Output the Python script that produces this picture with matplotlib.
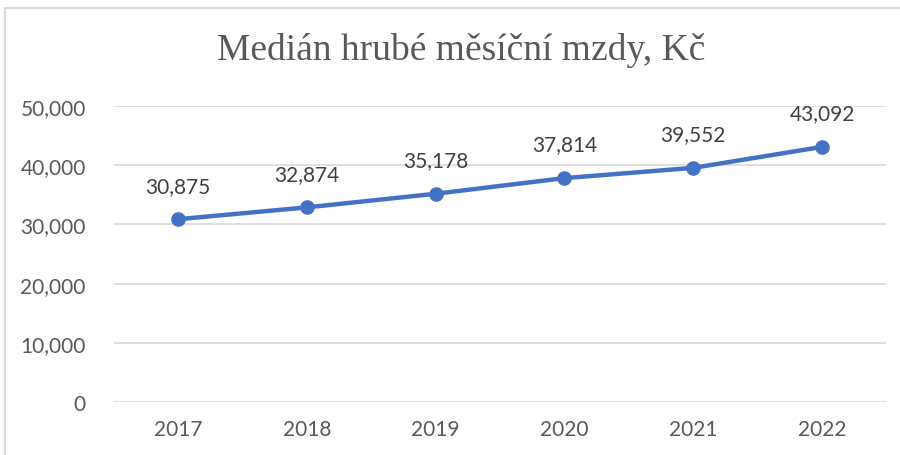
import matplotlib.pyplot as plt
from matplotlib.patches import Rectangle
from matplotlib.ticker import FuncFormatter

years = ["2017", "2018", "2019", "2020", "2021", "2022"]
wages = [30875, 32874, 35178, 37814, 39552, 43092]
title = "Medián hrubé měsíční mzdy, Kč"

W, H = 900, 456
fig = plt.figure(figsize=(W / 100, H / 100), dpi=100)
fig.patch.set_facecolor("white")

# chart frame (cut off at right and bottom)
fig.patches.append(Rectangle((5 / W, -0.1), 1.1, (H - 9) / H + 0.1, transform=fig.transFigure,
                             fill=False, edgecolor="#d9d9d9", linewidth=1.5))

ax = fig.add_axes([113.6 / W, 1 - 403 / H, (886.4 - 113.6) / W, (403 - 107) / H])
x = range(len(years))
ax.plot(x, wages, color="#4472C4", linewidth=3.2, marker="o", markersize=9.5, zorder=3)
for i, v in enumerate(wages):
    ax.annotate(f"{v:,}", (i, v), xytext=(0, 17), textcoords="offset points",
                ha="center", va="bottom", fontsize=15, color="#404040", family="Lato")

ax.set_xlim(-0.5, len(years) - 0.5)
ax.set_ylim(0, 50000)
ax.set_yticks(range(0, 50001, 10000))
ax.yaxis.set_major_formatter(FuncFormatter(lambda v, p: f"{int(v):,}"))
ax.set_xticks(list(x))
ax.set_xticklabels(years)
ax.grid(axis="y", color="#d9d9d9", linewidth=1.2)
ax.set_axisbelow(True)
for s in ax.spines.values():
    s.set_visible(False)
ax.tick_params(length=0, labelsize=15, labelcolor="#595959", pad=12)
for lab in ax.get_xticklabels() + ax.get_yticklabels():
    lab.set_family("Lato")
ax.tick_params(axis="y", pad=20)

fig.text(461 / W, 1 - 50 / H, title, ha="center", va="center", fontsize=27,
         family="Liberation Serif", color="#595959")

fig.savefig("out.png", dpi=100)
